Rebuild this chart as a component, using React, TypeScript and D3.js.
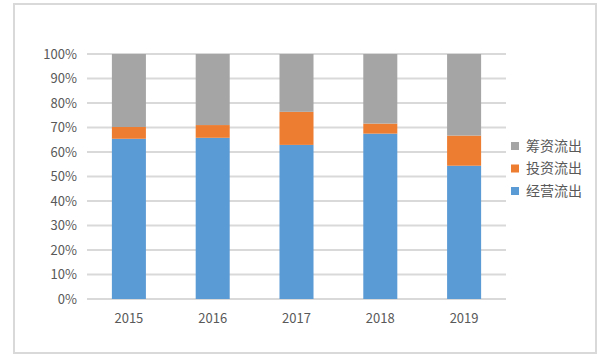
import React from "react";
import * as d3 from "d3";

const years = ["2015", "2016", "2017", "2018", "2019"];
const operating = [65.4, 65.8, 62.9, 67.5, 54.4]; // 经营流出
const investing = [4.8, 5.2, 13.5, 4.1, 12.3]; // 投资流出
const financing = [29.8, 29.0, 23.6, 28.4, 33.3]; // 筹资流出
const seriesNames = ["经营流出", "投资流出", "筹资流出"];
const colors = ["#5b9bd5", "#ed7d31", "#a5a5a5"];
const yTicks = [0, 10, 20, 30, 40, 50, 60, 70, 80, 90, 100];

export default function App() {
  const W = 605, H = 363;
  const x = d3.scaleBand<string>().domain(years).range([87, 506]).paddingInner(0.594).paddingOuter(0.297);
  const y = d3.scaleLinear().domain([0, 100]).range([299, 54]);
  const rows = years.map((yr, i) => ({ yr, vals: [operating[i], investing[i], financing[i]] }));
  const stack = d3.stack<any>().keys(["0", "1", "2"]).value((d: any, k: string) => d.vals[+k]);
  const stacked = stack(rows as any);
  const font = "'Noto Sans CJK SC', 'Noto Sans', sans-serif";
  const legendOrder = [2, 1, 0];
  return (
    <svg width={W} height={H} style={{ position: "absolute", left: 0, top: 0 }}>
      <rect x={0} y={0} width={W} height={H} fill="#fff" />
      <rect x={14} y={4} width={582} height={349} fill="#fff" stroke="#d9d9d9" strokeWidth={2} />
      {yTicks.map((t) => (
        <g key={t}>
          <line x1={87} x2={506} y1={y(t)} y2={y(t)} stroke="#d9d9d9" strokeWidth={2} />
          <text x={77} y={y(t)} dy="0.35em" textAnchor="end" fontSize={13} fill="#595959" fontFamily={font}>
            {t}%
          </text>
        </g>
      ))}
      {stacked.map((layer, si) => (
        <g key={si} fill={colors[si]}>
          {layer.map((d, i) => (
            <rect key={i} x={x(years[i])} width={x.bandwidth()} y={y(d[1])} height={y(d[0]) - y(d[1])} />
          ))}
        </g>
      ))}
      {years.map((yr) => (
        <text key={yr} x={(x(yr) as number) + x.bandwidth() / 2} y={323} textAnchor="middle" fontSize={13} fill="#595959" fontFamily={font}>
          {yr}
        </text>
      ))}
      {legendOrder.map((si, j) => {
        const cy = 146 + j * 22.5;
        return (
          <g key={si}>
            <rect x={511} y={cy - 4} width={8} height={8} fill={colors[si]} />
            <text x={526} y={cy} dy="0.35em" fontSize={14} fill="#595959" fontFamily={font}>
              {seriesNames[si]}
            </text>
          </g>
        );
      })}
    </svg>
  );
}
